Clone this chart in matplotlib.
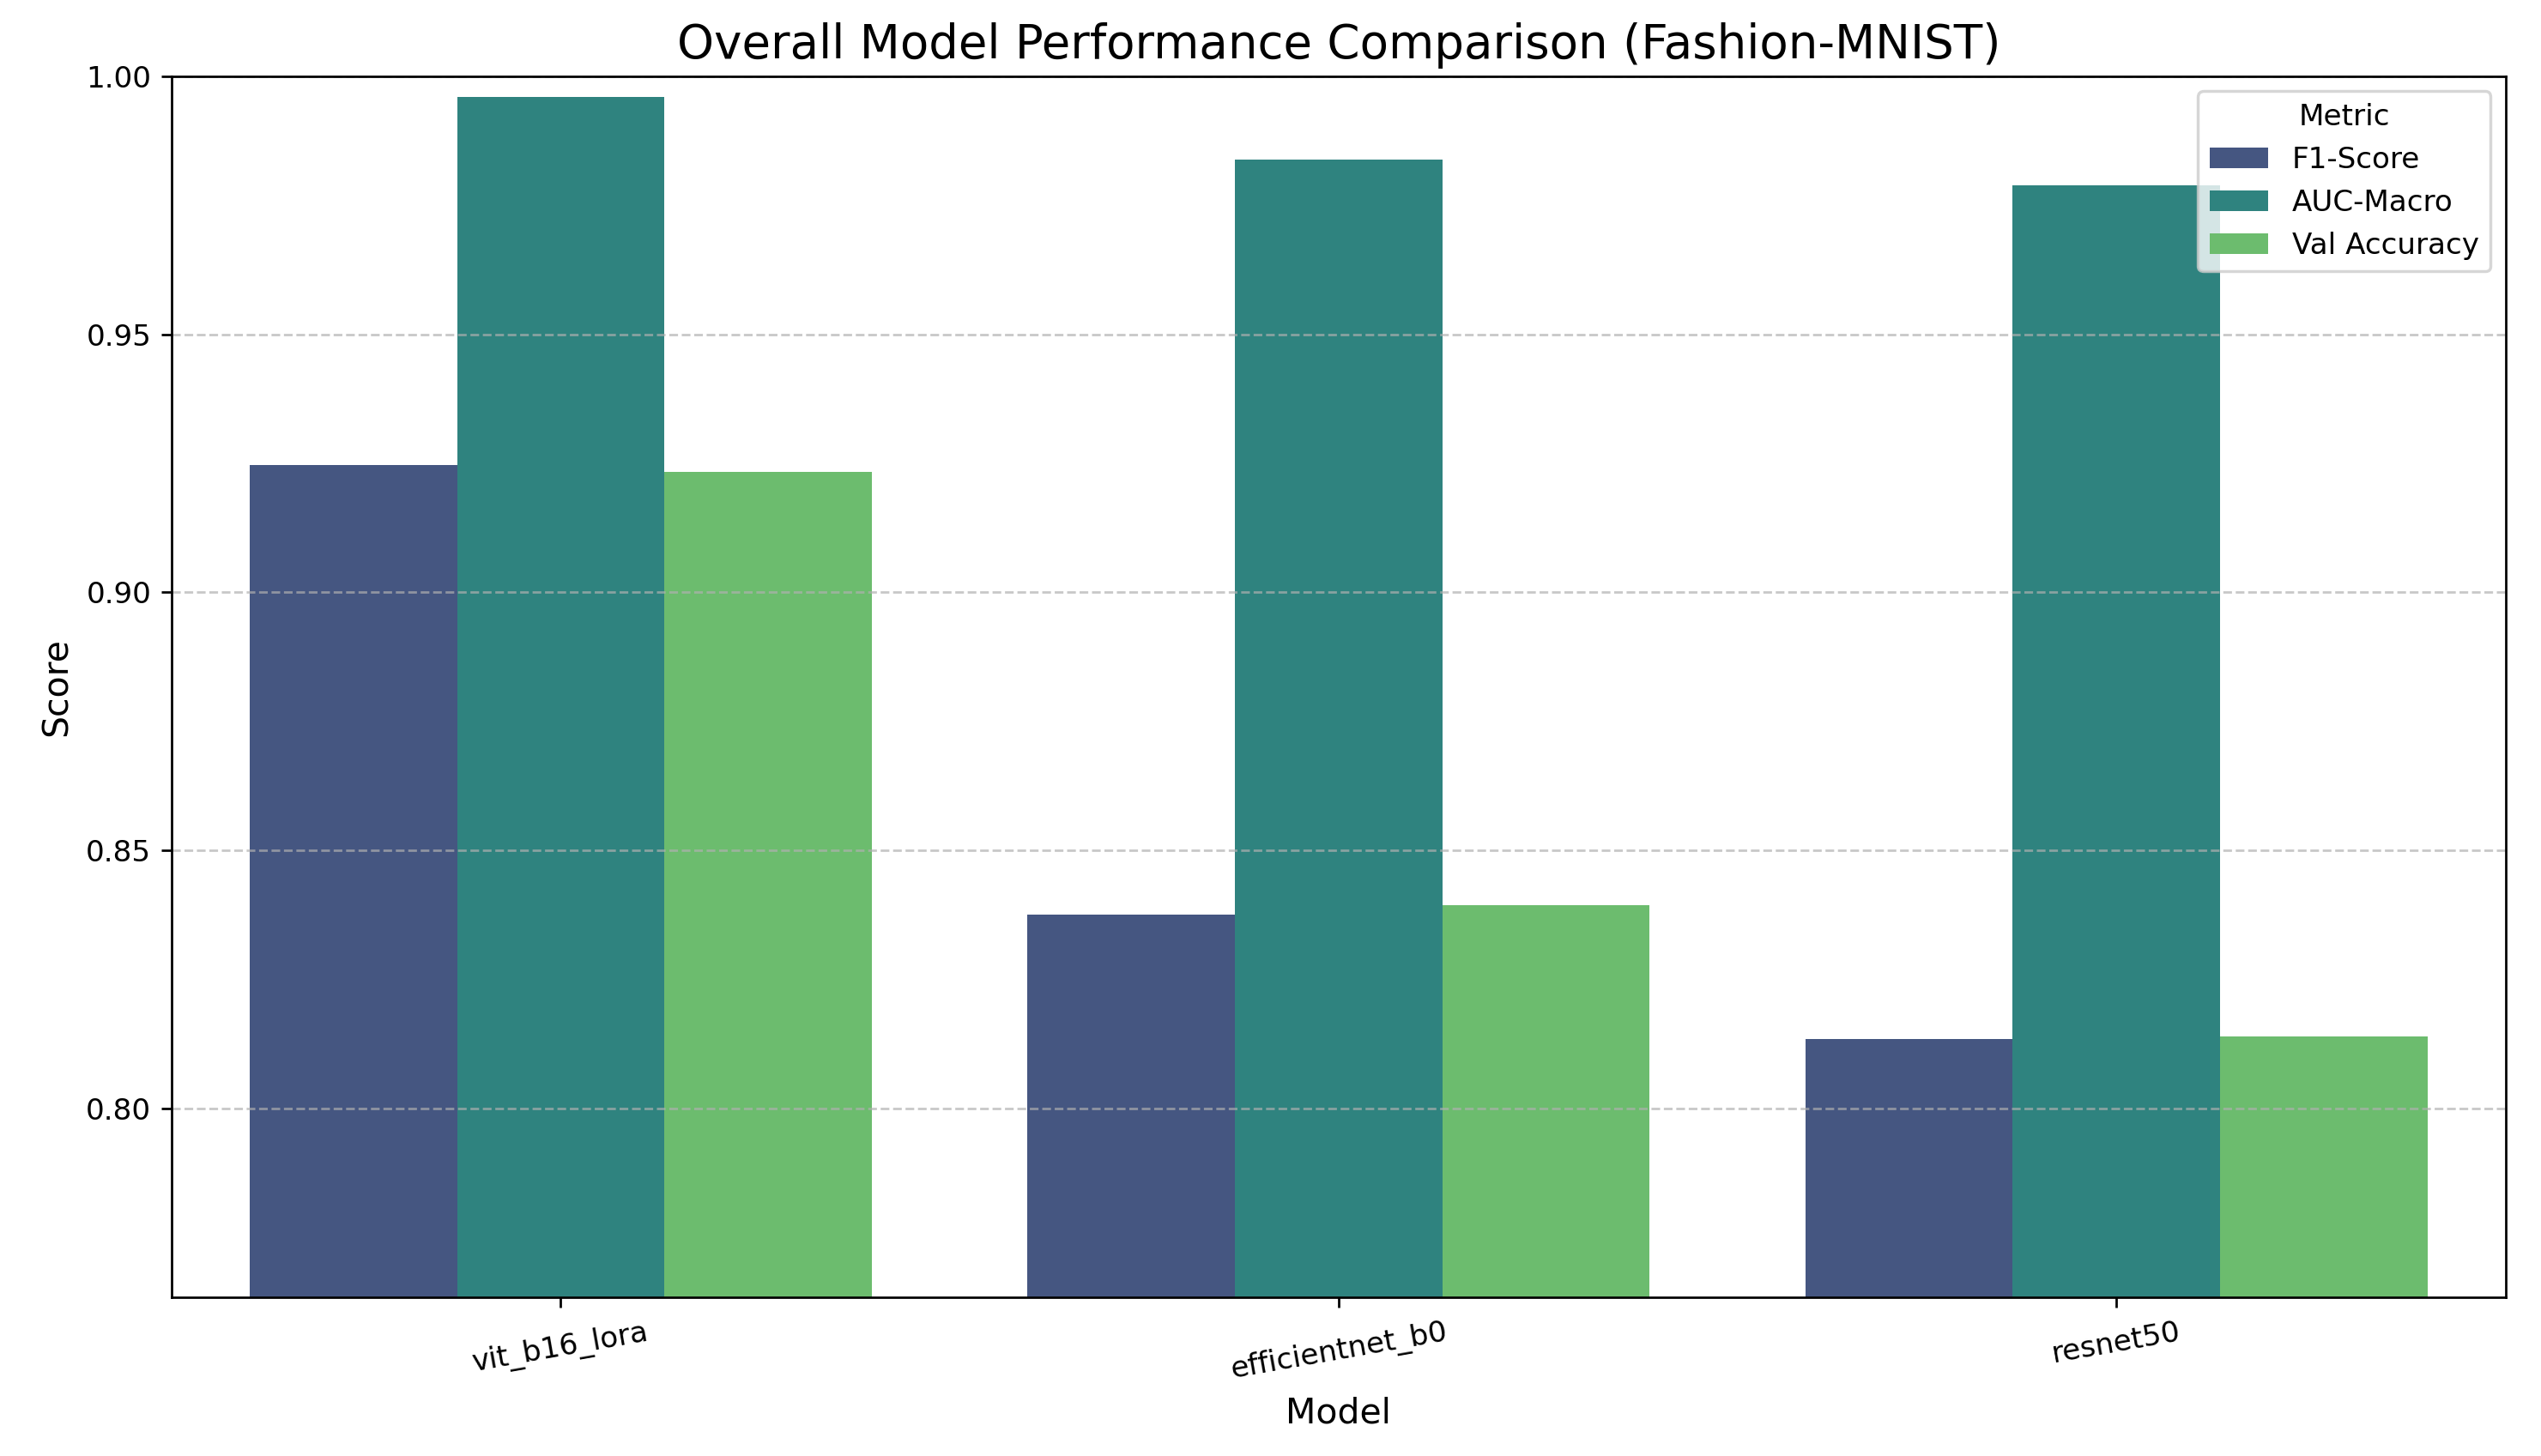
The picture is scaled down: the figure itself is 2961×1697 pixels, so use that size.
import pandas as pd
import seaborn as sns
from matplotlib import pyplot as plt

models = ['vit_b16_lora', 'efficientnet_b0', 'resnet50']
metrics = ['F1-Score', 'AUC-Macro', 'Val Accuracy']
f1_score = [0.9247, 0.8375, 0.8134]
auc_macro = [0.9959, 0.9839, 0.9788]
val_accuracy = [0.9233, 0.8393, 0.8140]

df = pd.DataFrame({'Model': models, 'F1-Score': f1_score,
                   'AUC-Macro': auc_macro, 'Val Accuracy': val_accuracy})
long_df = df.melt(id_vars='Model', value_vars=metrics, var_name='Metric', value_name='Score')

fig, ax = plt.subplots(figsize=(2961 / 246, 1697 / 246), dpi=246)
sns.barplot(data=long_df, x='Model', y='Score', hue='Metric', palette='viridis', ax=ax)

ax.set_title('Overall Model Performance Comparison (Fashion-MNIST)', fontsize=16)
ax.set_xlabel('Model', fontsize=12)
ax.set_ylabel('Score', fontsize=12)
ax.set_ylim(long_df['Score'].min() - 0.05, 1.0)
ax.grid(axis='y', linestyle='--', alpha=0.7)
plt.xticks(rotation=10)
ax.legend(title='Metric', loc='upper right')

fig.subplots_adjust(left=0.0676, right=0.986, top=0.9477, bottom=0.109)
plt.savefig('out.png', dpi=246)
plt.close()
